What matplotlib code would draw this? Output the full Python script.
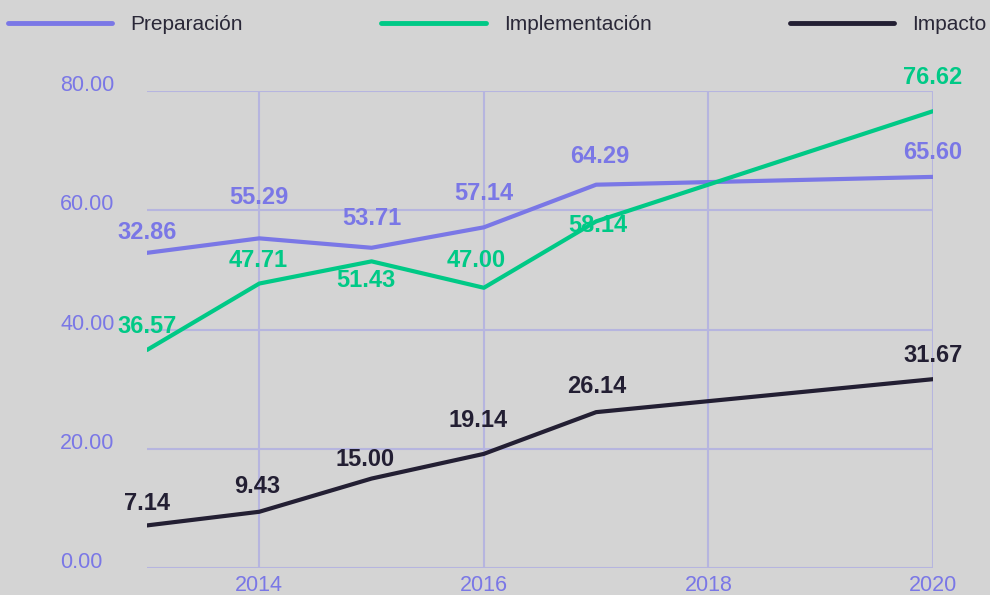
"""三条指标折线图：Preparación / Implementación / Impacto。"""

import matplotlib
matplotlib.use("Agg")
import matplotlib.pyplot as plt
from matplotlib.lines import Line2D

plt.rcParams["font.family"] = ["Liberation Sans", "DejaVu Sans"]

# 数据
years = [2013, 2014, 2015, 2016, 2017, 2020]
prep_values = [52.86, 55.29, 53.71, 57.14, 64.29, 65.60]
prep_labels = ["32.86", "55.29", "53.71", "57.14", "64.29", "65.60"]
impl_values = [36.57, 47.71, 51.43, 47.00, 58.14, 76.62]
impl_labels = ["36.57", "47.71", "51.43", "47.00", "58.14", "76.62"]
imp_values = [7.14, 9.43, 15.00, 19.14, 26.14, 31.67]
imp_labels = ["7.14", "9.43", "15.00", "19.14", "26.14", "31.67"]
series_names = ["Preparación", "Implementación", "Impacto"]
x_ticks = [2014, 2016, 2018, 2020]
y_ticks = [0, 20, 40, 60, 80]

# 样式
bg = "#d4d4d4"
colors = ["#7a77e6", "#00c986", "#231f33"]
grid_color = "#b6b5df"
tick_color = "#7a77e6"

# 数据标签偏移（像素）
prep_offsets = [(0, 20), (0, 41), (0, 29), (0, 34), (4, 28), (0, 24)]
impl_offsets = [(0, 23), (-1, 23), (-6, -19), (-8, 27), (2, -4), (0, 34)]
imp_offsets = [(0, 22), (-2, 25), (-7, 19), (-6, 33), (1, 26), (0, 24)]

fig = plt.figure(figsize=(9.9, 5.95), dpi=100, facecolor=bg)
ax = fig.add_axes([0.1485, 0.0454, 0.7939, 0.8016], facecolor=bg)

all_values = [prep_values, impl_values, imp_values]
all_labels = [prep_labels, impl_labels, imp_labels]
all_offsets = [prep_offsets, impl_offsets, imp_offsets]

for vals, labs, offs, c, name in zip(all_values, all_labels, all_offsets, colors, series_names):
    ax.plot(years, vals, color=c, lw=3, solid_capstyle="round", label=name, zorder=3)
    for x, y, t, (dx, dy) in zip(years, vals, labs, offs):
        ax.annotate(t, (x, y), xytext=(dx, dy), textcoords="offset pixels",
                    ha="center", va="center", fontsize=17, fontweight="bold",
                    color=c, zorder=4, annotation_clip=False)

ax.set_xlim(2013, 2020)
ax.set_ylim(0, 80)
ax.set_xticks(x_ticks)
ax.set_xticklabels([str(v) for v in x_ticks])
ax.set_yticks(y_ticks)
ax.set_yticklabels([f"{v:.2f}" for v in y_ticks])

for s in ax.spines.values():
    s.set_visible(False)
ax.grid(True, color=grid_color, lw=1.5, zorder=0)
ax.set_axisbelow(True)

ax.tick_params(axis="both", length=0, labelsize=15.5, labelcolor=tick_color)
ax.tick_params(axis="x", pad=5)
ax.tick_params(axis="y", pad=62.6)
for lab in ax.get_yticklabels():
    lab.set_horizontalalignment("left")
    lab.set_verticalalignment("baseline")

# 图例
handles = [Line2D([0], [0], color=c, lw=3.5, solid_capstyle="round") for c in colors]
fig.legend(handles, series_names, loc="upper left", bbox_to_anchor=(8 / 990, 1 - 15 / 595),
           ncol=3, frameon=False, fontsize=15, labelcolor="#2a2838",
           handlelength=5.0, handletextpad=0.87, columnspacing=6.65,
           borderpad=0, borderaxespad=0)

fig.savefig("out.png", dpi=100, facecolor=bg)
